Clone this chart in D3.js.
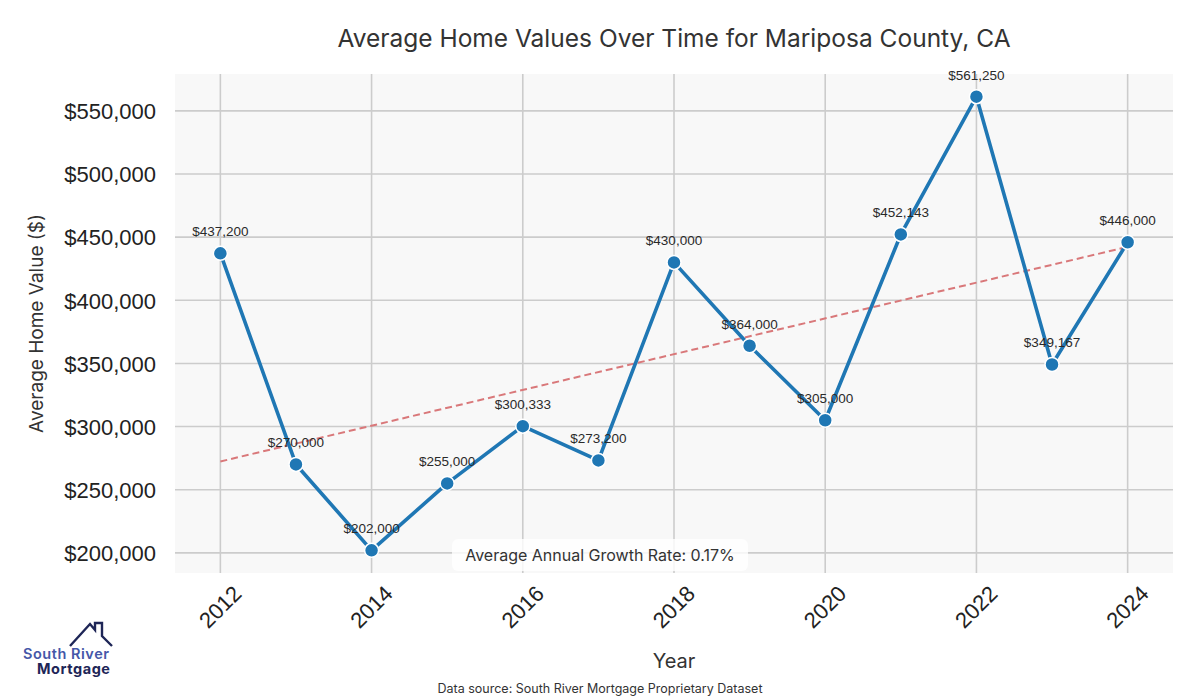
<!DOCTYPE html>
<html lang="en">
<head>
<meta charset="UTF-8">
<title>Average Home Values Over Time for Mariposa County, CA</title>
<script src="https://cdn.jsdelivr.net/npm/d3@7/dist/d3.min.js"></script>
<style>
  body { margin: 0; background: #fff; }
  svg { display: block; }
</style>
</head>
<body>
<svg width="1200" height="700"></svg>
<script>
// data
var years = [2012, 2013, 2014, 2015, 2016, 2017, 2018, 2019, 2020, 2021, 2022, 2023, 2024]
var values = [437200, 270000, 202000, 255000, 300333, 273200, 430000, 364000, 305000, 452143, 561250, 349167, 446000]
var yTicks = [200000, 250000, 300000, 350000, 400000, 450000, 500000, 550000]
var xTicks = [2012, 2014, 2016, 2018, 2020, 2022, 2024]
var growthText = "Average Annual Growth Rate: 0.17%"

var svg = d3.select("svg")
var plot = {left: 175, right: 1173, top: 74, bottom: 573}
var geo = "Inter, 'Noto Sans', sans-serif"
var arial = "'Liberation Sans', Arial, sans-serif"

// matplotlib style 5% margins
var xExt = d3.extent(years), yExt = d3.extent(values)
var xPad = (xExt[1] - xExt[0]) * 0.05, yPad = (yExt[1] - yExt[0]) * 0.05
var x = d3.scaleLinear().domain([xExt[0] - xPad, xExt[1] + xPad]).range([plot.left, plot.right])
var y = d3.scaleLinear().domain([yExt[0] - yPad, yExt[1] + yPad]).range([plot.bottom, plot.top])

svg.append("rect")
    .attr("x", plot.left).attr("y", plot.top)
    .attr("width", plot.right - plot.left).attr("height", plot.bottom - plot.top)
    .attr("fill", "#f8f8f8")

// grid
var grid = svg.append("g").attr("stroke", "#cccccc").attr("stroke-width", 1.6)
grid.selectAll(".gy").data(yTicks).enter().append("line")
    .attr("x1", plot.left).attr("x2", plot.right)
    .attr("y1", d => y(d)).attr("y2", d => y(d))
grid.selectAll(".gx").data(xTicks).enter().append("line")
    .attr("y1", plot.top).attr("y2", plot.bottom)
    .attr("x1", d => x(d)).attr("x2", d => x(d))

// axes (labels only, no domain line)
var fmt = d3.format("$,.0f")
var yAxis = svg.append("g").attr("transform", `translate(${plot.left},0)`)
    .call(d3.axisLeft(y).tickValues(yTicks).tickFormat(fmt).tickSize(0).tickPadding(19))
yAxis.select(".domain").remove()
yAxis.selectAll("text").attr("font-family", arial).attr("font-size", 22).attr("fill", "#222")
    .attr("dy", "0.35em")

var xAxis = svg.append("g").attr("transform", `translate(0,${plot.bottom})`)
    .call(d3.axisBottom(x).tickValues(xTicks).tickFormat(d3.format("d")).tickSize(0))
xAxis.select(".domain").remove()
xAxis.selectAll("text")
    .attr("font-family", arial).attr("font-size", 22).attr("fill", "#222")
    .attr("text-anchor", "end").attr("dy", 0).attr("y", 0)
    .attr("transform", "translate(22,22) rotate(-45)")

// trend line (least squares)
var mx = d3.mean(years), my = d3.mean(values)
var slope = d3.sum(years, (d, i) => (d - mx) * (values[i] - my)) / d3.sum(years, d => (d - mx) * (d - mx))
var trend = d => my + slope * (d - mx)
svg.append("line")
    .attr("x1", x(xExt[0])).attr("y1", y(trend(xExt[0])))
    .attr("x2", x(xExt[1])).attr("y2", y(trend(xExt[1])))
    .attr("stroke", "#d9787a").attr("stroke-width", 2).attr("stroke-dasharray", "7,4")

// main line
var pts = years.map((d, i) => [d, values[i]])
svg.append("path").datum(pts)
    .attr("d", d3.line().x(d => x(d[0])).y(d => y(d[1])))
    .attr("fill", "none").attr("stroke", "#1f77b4").attr("stroke-width", 3.6)
    .attr("stroke-linejoin", "round")

svg.append("g").selectAll("circle").data(pts).enter().append("circle")
    .attr("cx", d => x(d[0])).attr("cy", d => y(d[1])).attr("r", 7)
    .attr("fill", "#1f77b4").attr("stroke", "#fff").attr("stroke-width", 1.5)

svg.append("g").selectAll("text").data(pts).enter().append("text")
    .attr("x", d => x(d[0])).attr("y", d => y(d[1]) - 17)
    .attr("text-anchor", "middle")
    .attr("font-family", arial).attr("font-size", 13.5).attr("fill", "#2a2a2a")
    .text(d => fmt(d[1]))

// growth annotation
var note = svg.append("g")
note.append("rect").attr("x", 452).attr("y", 539).attr("width", 296).attr("height", 32)
    .attr("rx", 6).attr("fill", "#fff").attr("fill-opacity", 0.8)
note.append("text").attr("x", 600).attr("y", 561).attr("text-anchor", "middle")
    .attr("font-family", geo).attr("font-size", 16).attr("fill", "#333")
    .text(growthText)

// titles
svg.append("text").attr("x", (plot.left + plot.right) / 2).attr("y", 47)
    .attr("text-anchor", "middle").attr("font-family", geo).attr("font-size", 24.5).attr("fill", "#333")
    .text("Average Home Values Over Time for Mariposa County, CA")
svg.append("text").attr("transform", `translate(43,${(plot.top + plot.bottom) / 2}) rotate(-90)`)
    .attr("text-anchor", "middle").attr("font-family", geo).attr("font-size", 19).attr("fill", "#333")
    .text("Average Home Value ($)")
svg.append("text").attr("x", (plot.left + plot.right) / 2).attr("y", 668)
    .attr("text-anchor", "middle").attr("font-family", geo).attr("font-size", 20).attr("fill", "#333")
    .text("Year")
svg.append("text").attr("x", 600).attr("y", 693)
    .attr("text-anchor", "middle").attr("font-family", geo).attr("font-size", 12.5).attr("fill", "#333")
    .text("Data source: South River Mortgage Proprietary Dataset")

// logo
var logo = svg.append("g")
logo.append("path")
    .attr("d", "M70,646 L90,624 L95,630 L95,623 L102,623 L102,636 L112,646")
    .attr("fill", "none").attr("stroke", "#1e2657").attr("stroke-width", 2.4).attr("stroke-linejoin", "miter")
logo.append("text").attr("x", 23).attr("y", 659)
    .attr("font-family", geo).attr("font-weight", 600).attr("font-size", 14.5).attr("fill", "#4557a8")
    .attr("textLength", 86)
    .text("South River")
logo.append("text").attr("x", 37).attr("y", 674)
    .attr("font-family", geo).attr("font-weight", 700).attr("font-size", 14.5).attr("fill", "#1e2657")
    .attr("textLength", 73)
    .text("Mortgage")
</script>
</body>
</html>
